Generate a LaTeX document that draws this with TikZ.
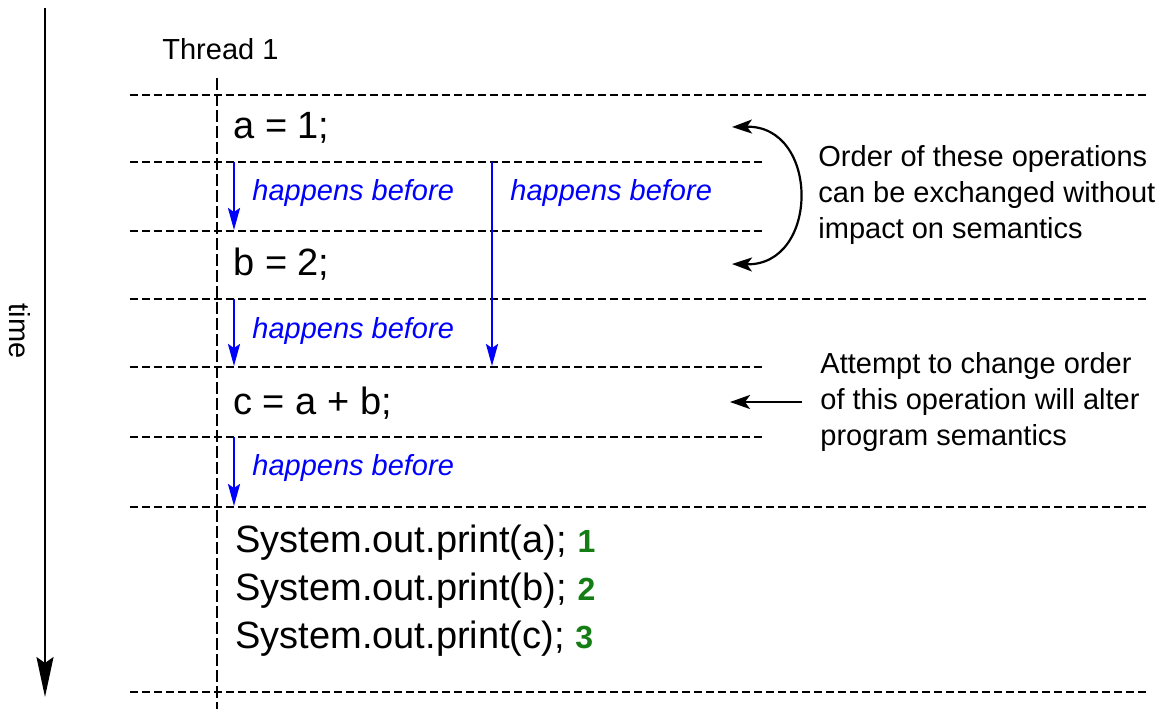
\documentclass[tikz,border=0pt]{standalone}
\usepackage{fontspec}
\setmainfont{Liberation Sans}
\usetikzlibrary{arrows.meta}
\definecolor{hbblue}{RGB}{0,0,255}
\definecolor{numgreen}{RGB}{20,125,20}
\newcommand{\codesz}{\fontsize{19}{24}\selectfont}
\newcommand{\notesz}{\fontsize{14.5}{18}\selectfont}
\newcommand{\numsz}{\fontsize{16}{20}\selectfont}

\begin{document}
\begin{tikzpicture}[x=0.5pt,y=-0.5pt,
  sep/.style={dash pattern=on 4pt off 2pt,line width=0.9pt},
  hb/.style={hbblue,line width=1.2pt,-{Stealth[length=11pt,width=6pt,inset=2pt]}},
  hbtext/.style={hbblue,font=\notesz\itshape,anchor=base west,inner sep=0pt},
  stmt/.style={font=\codesz,anchor=base west,inner sep=0pt},
  remark/.style={font=\notesz,align=left,anchor=west,inner sep=0pt}]
   \useasboundingbox (0,0) rectangle (1162,709);
   \foreach \y/\xe in {95/1148,162/765,231/765,299/1148,367/765,437/765,507/1148,692/1148}
     \draw[sep] (130,\y) -- (\xe,\y);
   \coordinate (thr0) at (217,78);
   \coordinate (thr1) at (217,709);
   \draw[dash pattern=on 6pt off 2pt,line width=1pt] (thr0) -- (thr1);
   \coordinate (t0) at (45,8);
   \coordinate (t1) at (45,697);
   \draw[line width=1pt,-{Stealth[length=20pt,width=8.5pt,inset=3pt]}] (t0) -- (t1);
   \node[font=\notesz,rotate=-90] (time) at (20,331) {time};
   \node[font=\notesz,anchor=base west,inner sep=0pt] (thread) at (162,59) {Thread 1};
   \node[stmt] (sa) at (233,138) {a = 1;};
   \node[stmt] (sb) at (233,275) {b = 2;};
   \node[stmt] (sc) at (233,414) {c = a + b;};
   \node[stmt] (p1) at (235,552) {System.out.print(a); {\color{numgreen}\numsz\bfseries 1}};
   \node[stmt] (p2) at (235,600) {System.out.print(b); {\color{numgreen}\numsz\bfseries 2}};
   \node[stmt] (p3) at (235,648) {System.out.print(c); {\color{numgreen}\numsz\bfseries 3}};
   \coordinate (h1a) at (234,162);  \coordinate (h1b) at (234,230);
   \coordinate (h2a) at (234,299);  \coordinate (h2b) at (234,366);
   \coordinate (h3a) at (234,437);  \coordinate (h3b) at (234,506);
   \coordinate (h4a) at (492,162);  \coordinate (h4b) at (492,366);
   \draw[hb] (h1a) -- (h1b);
   \draw[hb] (h2a) -- (h2b);
   \draw[hb] (h3a) -- (h3b);
   \draw[hb] (h4a) -- (h4b);
   \node[hbtext] (hb1) at (252,200) {happens before};
   \node[hbtext] (hb2) at (510,200) {happens before};
   \node[hbtext] (hb3) at (252,338) {happens before};
   \node[hbtext] (hb4) at (252,475) {happens before};
   \coordinate (sw1) at (732,127);
   \coordinate (sw2) at (732,264);
   \draw[line width=1.1pt,{Stealth[length=10pt,width=7pt,inset=2.5pt]}-{Stealth[length=10pt,width=7pt,inset=2.5pt]}]
     (sw1) .. controls (820,125) and (820,266) .. (sw2);
   \node[remark] (swap) at (818,195) {Order of these operations\\can be exchanged without\\impact on semantics};
   \node[remark] (keep) at (820,402) {Attempt to change order\\of this operation will alter\\program semantics};
   \coordinate (ka) at (730,402);
   \draw[line width=1.1pt,-{Stealth[length=10pt,width=7pt,inset=2.5pt]}] (keep.west) ++(-18,0) -- (ka);
  \end{tikzpicture}
\end{document}
